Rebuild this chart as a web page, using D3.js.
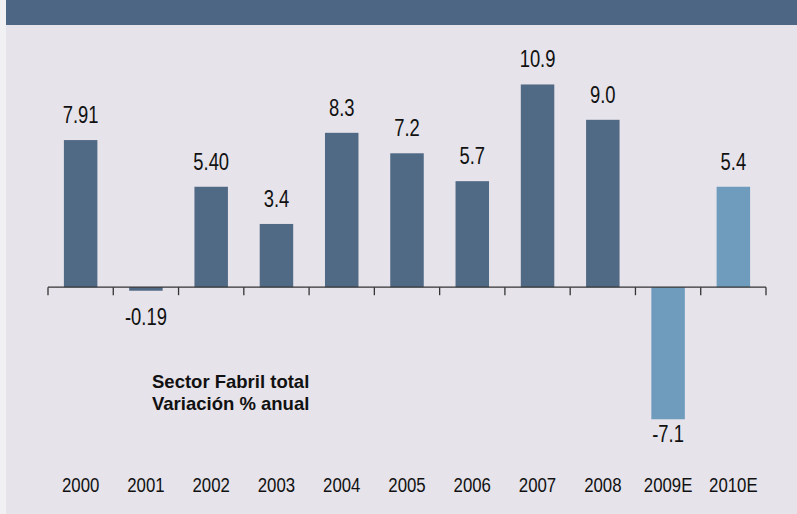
<!DOCTYPE html>
<meta charset="utf-8">
<script src="https://cdn.jsdelivr.net/npm/d3@7"></script>
<style>
    body { margin: 0; background: #f1f0f3; }
    .axis path, .axis line { stroke: #333; stroke-width: 1.3; fill: none; }
    .val, .year { font-family: "Liberation Sans", Arial, sans-serif; fill: #111; }
    .val { font-size: 23px; }
    .year { font-size: 21px; }
    .note { font-family: "Liberation Sans", Arial, sans-serif; font-size: 18.5px; font-weight: bold; fill: #111; }
</style>
<body>
<svg class="chart"></svg>
<script>
    ///////////////////////
    // Data
    var years = ["2000", "2001", "2002", "2003", "2004", "2005", "2006", "2007", "2008", "2009E", "2010E"];
    var values = [7.91, -0.19, 5.40, 3.4, 8.3, 7.2, 5.7, 10.9, 9.0, -7.1, 5.4];
    var labels = ["7.91", "-0.19", "5.40", "3.4", "8.3", "7.2", "5.7", "10.9", "9.0", "-7.1", "5.4"];
    var estimated = [false, false, false, false, false, false, false, false, false, true, true];
    var noteLines = ["Sector Fabril total", "Variación % anual"];

    var data = years.map(function(y, i) {
        return { year: y, value: values[i], label: labels[i], est: estimated[i] };
    });

    ///////////////////////
    // Chart Size Setup
    var W = 797, H = 514;
    var svg = d3.select(".chart").attr("width", W).attr("height", H);

    // page background + header band
    svg.append("rect").attr("x", 6).attr("y", 0).attr("width", W - 6).attr("height", H).attr("fill", "#e6e3ea");
    svg.append("rect").attr("x", 6).attr("y", 0).attr("width", W - 6).attr("height", 25).attr("fill", "#4d6684");

    ///////////////////////
    // Scales
    var x = d3.scaleBand()
        .domain(years)
        .range([48, 766])
        .paddingInner(0.487)
        .paddingOuter(0.2435);

    var y = d3.scaleLinear()
        .domain([-8, 12])
        .range([436, 64]);

    // the print uses a condensed face: squeeze the numbers horizontally
    var squeeze = 0.8;

    ///////////////////////
    // Bars
    svg.append("g").selectAll("rect")
        .data(data)
        .enter().append("rect")
        .attr("x", function(d) { return x(d.year); })
        .attr("width", x.bandwidth())
        .attr("y", function(d) { return y(Math.max(0, d.value)); })
        .attr("height", function(d) { return Math.abs(y(d.value) - y(0)); })
        .attr("fill", function(d) { return d.est ? "#6f9bbd" : "#506985"; });

    ///////////////////////
    // Axis (ticks between the bars)
    var edges = years.map(function(d) { return x(d) - x.step() * x.paddingInner() / 2; });
    edges.push(766);
    var axis = svg.append("g").attr("class", "axis");
    axis.append("line")
        .attr("x1", 48).attr("x2", 766)
        .attr("y1", y(0)).attr("y2", y(0));
    axis.selectAll(".tick")
        .data(edges)
        .enter().append("line")
        .attr("x1", function(d) { return d; })
        .attr("x2", function(d) { return d; })
        .attr("y1", y(0))
        .attr("y2", y(0) + 8);

    ///////////////////////
    // Value labels
    svg.append("g").selectAll("text")
        .data(data)
        .enter().append("text")
        .attr("class", "val")
        .attr("text-anchor", "middle")
        .attr("transform", function(d) {
            var ty;
            if (d.value >= 0) ty = y(d.value) - 17;
            // keep negative labels clear of the tick marks
            else ty = Math.max(y(d.value) + 8, y(0) + 23) + 15;
            return "translate(" + (x(d.year) + x.bandwidth() / 2) + "," + ty + ") scale(" + squeeze + ",1)";
        })
        .text(function(d) { return d.label; });

    ///////////////////////
    // Year labels
    svg.append("g").selectAll("text")
        .data(data)
        .enter().append("text")
        .attr("class", "year")
        .attr("text-anchor", "middle")
        .attr("transform", function(d) {
            return "translate(" + (x(d.year) + x.bandwidth() / 2) + ",492) scale(" + squeeze + ",1)";
        })
        .text(function(d) { return d.year; });

    ///////////////////////
    // Note
    svg.append("g").selectAll("text")
        .data(noteLines)
        .enter().append("text")
        .attr("class", "note")
        .attr("x", 152)
        .attr("y", function(d, i) { return 388 + i * 22; })
        .text(function(d) { return d; });
</script>
</body>
